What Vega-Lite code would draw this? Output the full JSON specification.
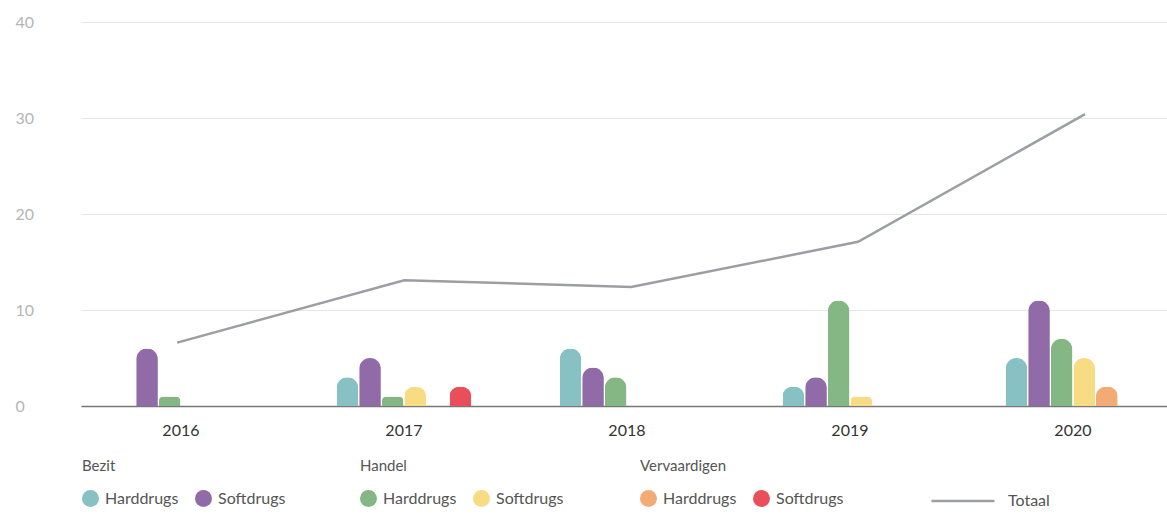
{
  "$schema": "https://vega.github.io/schema/vega-lite/v6.json",
  "width": 1086,
  "height": 384,
  "autosize": "none",
  "padding": {"left": 81, "top": 22, "right": 0, "bottom": 110},
  "config": {
    "view": {"stroke": null},
    "font": "Lato",
    "legend": {
      "orient": "none",
      "direction": "horizontal",
      "titleFont": "Lato",
      "titleFontSize": 15,
      "titleFontWeight": "normal",
      "titleColor": "#555555",
      "titlePadding": 16,
      "labelFont": "Lato",
      "labelFontSize": 16,
      "labelColor": "#555555",
      "symbolSize": 289,
      "symbolType": "circle",
      "symbolStrokeWidth": 0,
      "labelOffset": 6,
      "columnPadding": 16
    }
  },
  "datasets": {
    "bars": [
      {"jaar": "2016", "categorie": "Bezit", "drug": "Softdrugs", "reeks": "Bezit Softdrugs", "aantal": 6},
      {"jaar": "2016", "categorie": "Handel", "drug": "Harddrugs", "reeks": "Handel Harddrugs", "aantal": 1},
      {"jaar": "2017", "categorie": "Bezit", "drug": "Harddrugs", "reeks": "Bezit Harddrugs", "aantal": 3},
      {"jaar": "2017", "categorie": "Bezit", "drug": "Softdrugs", "reeks": "Bezit Softdrugs", "aantal": 5},
      {"jaar": "2017", "categorie": "Handel", "drug": "Harddrugs", "reeks": "Handel Harddrugs", "aantal": 1},
      {"jaar": "2017", "categorie": "Handel", "drug": "Softdrugs", "reeks": "Handel Softdrugs", "aantal": 2},
      {"jaar": "2017", "categorie": "Vervaardigen", "drug": "Softdrugs", "reeks": "Vervaardigen Softdrugs", "aantal": 2},
      {"jaar": "2018", "categorie": "Bezit", "drug": "Harddrugs", "reeks": "Bezit Harddrugs", "aantal": 6},
      {"jaar": "2018", "categorie": "Bezit", "drug": "Softdrugs", "reeks": "Bezit Softdrugs", "aantal": 4},
      {"jaar": "2018", "categorie": "Handel", "drug": "Harddrugs", "reeks": "Handel Harddrugs", "aantal": 3},
      {"jaar": "2019", "categorie": "Bezit", "drug": "Harddrugs", "reeks": "Bezit Harddrugs", "aantal": 2},
      {"jaar": "2019", "categorie": "Bezit", "drug": "Softdrugs", "reeks": "Bezit Softdrugs", "aantal": 3},
      {"jaar": "2019", "categorie": "Handel", "drug": "Harddrugs", "reeks": "Handel Harddrugs", "aantal": 11},
      {"jaar": "2019", "categorie": "Handel", "drug": "Softdrugs", "reeks": "Handel Softdrugs", "aantal": 1},
      {"jaar": "2020", "categorie": "Bezit", "drug": "Harddrugs", "reeks": "Bezit Harddrugs", "aantal": 5},
      {"jaar": "2020", "categorie": "Bezit", "drug": "Softdrugs", "reeks": "Bezit Softdrugs", "aantal": 11},
      {"jaar": "2020", "categorie": "Handel", "drug": "Harddrugs", "reeks": "Handel Harddrugs", "aantal": 7},
      {"jaar": "2020", "categorie": "Handel", "drug": "Softdrugs", "reeks": "Handel Softdrugs", "aantal": 5},
      {"jaar": "2020", "categorie": "Vervaardigen", "drug": "Harddrugs", "reeks": "Vervaardigen Harddrugs", "aantal": 2}
    ],
    "totaal": [
      {"jaar": "2016", "reeks": "Totaal", "aantal": 6.6},
      {"jaar": "2017", "reeks": "Totaal", "aantal": 13.1},
      {"jaar": "2018", "reeks": "Totaal", "aantal": 12.4},
      {"jaar": "2019", "reeks": "Totaal", "aantal": 17.1},
      {"jaar": "2020", "reeks": "Totaal", "aantal": 30.4}
    ]
  },
  "layer": [
    {
      "data": {"name": "bars"},
      "encoding": {
        "x": {
          "field": "jaar", "type": "nominal",
          "scale": {"domain": ["2016", "2017", "2018", "2019", "2020"], "paddingInner": 0.392, "paddingOuter": 0.131, "align": 0.55},
          "axis": {"title": null, "labelAngle": 0, "domain": true, "domainColor": "#777777", "domainWidth": 1.5, "ticks": false, "labelFontSize": 16, "labelColor": "#333333", "labelPadding": 16, "labelFont": "Lato"}
        },
        "xOffset": {
          "field": "reeks", "type": "nominal",
          "scale": {"domain": ["Bezit Harddrugs", "Bezit Softdrugs", "Handel Harddrugs", "Handel Softdrugs", "Vervaardigen Harddrugs", "Vervaardigen Softdrugs"], "paddingInner": 0.04, "paddingOuter": 0.02}
        },
        "y": {
          "field": "aantal", "type": "quantitative",
          "scale": {"domain": [0, 40]},
          "axis": {"title": null, "values": [0, 10, 20, 30, 40], "domain": false, "ticks": false, "grid": true, "gridColor": "#e6e6e6", "gridWidth": 1, "labelAlign": "left", "labelPadding": 66, "labelFontSize": 16, "labelColor": "#b5b5b5", "labelFont": "Lato"}
        }
      },
      "layer": [
        {
          "transform": [{"filter": "datum.categorie === 'Bezit'"}],
          "mark": {"type": "bar", "cornerRadiusTopLeft": 11, "cornerRadiusTopRight": 11},
          "encoding": {
            "color": {"field": "drug", "type": "nominal", "scale": {"domain": ["Harddrugs", "Softdrugs"], "range": ["#88c1c4", "#916ba8"]},
              "legend": {"title": "Bezit", "legendX": 1, "legendY": 437}},
            "strokeDash": {"datum": "Bezit", "type": "nominal", "scale": {"range": [[1, 0]]},
              "legend": {"title": null, "labelExpr": "''", "symbolType": "stroke", "symbolSize": 51984, "symbolStrokeColor": "#c2c2c6", "symbolStrokeWidth": 1.5, "legendX": 0, "legendY": 345}}
          }
        },
        {
          "transform": [{"filter": "datum.categorie === 'Handel'"}],
          "mark": {"type": "bar", "cornerRadiusTopLeft": 11, "cornerRadiusTopRight": 11},
          "encoding": {
            "color": {"field": "drug", "type": "nominal", "scale": {"domain": ["Harddrugs", "Softdrugs"], "range": ["#84b784", "#f7dc84"]},
              "legend": {"title": "Handel", "legendX": 279, "legendY": 437}},
            "strokeDash": {"datum": "Handel", "type": "nominal", "scale": {"range": [[1, 0]]},
              "legend": {"title": null, "labelExpr": "''", "symbolType": "stroke", "symbolSize": 51984, "symbolStrokeColor": "#c2c2c6", "symbolStrokeWidth": 1.5, "legendX": 278, "legendY": 345}}
          }
        },
        {
          "transform": [{"filter": "datum.categorie === 'Vervaardigen'"}],
          "mark": {"type": "bar", "cornerRadiusTopLeft": 11, "cornerRadiusTopRight": 11},
          "encoding": {
            "color": {"field": "drug", "type": "nominal", "scale": {"domain": ["Harddrugs", "Softdrugs"], "range": ["#f2ab74", "#e94f5a"]},
              "legend": {"title": "Vervaardigen", "legendX": 559, "legendY": 437}},
            "strokeDash": {"datum": "Vervaardigen", "type": "nominal", "scale": {"range": [[1, 0]]},
              "legend": {"title": null, "labelExpr": "''", "symbolType": "stroke", "symbolSize": 52441, "symbolStrokeColor": "#c2c2c6", "symbolStrokeWidth": 1.5, "legendX": 558, "legendY": 344}}
          }
        }
      ],
      "resolve": {"scale": {"color": "independent", "strokeDash": "independent"}}
    },
    {
      "data": {"name": "totaal"},
      "mark": {"type": "line", "strokeWidth": 2.5},
      "encoding": {
        "x": {"field": "jaar", "type": "ordinal", "scale": {"type": "point", "padding": 0.3925, "align": 0.54}, "axis": null},
        "y": {"field": "aantal", "type": "quantitative"},
        "stroke": {"field": "reeks", "type": "nominal", "scale": {"range": ["#9b9fa3"]}, "legend": {"title": null, "symbolType": "stroke", "symbolSize": 3969, "symbolStrokeWidth": 2.5, "labelOffset": 12, "legendX": 849, "legendY": 446}}
      }
    }
  ],
  "resolve": {"scale": {"x": "independent", "color": "independent", "strokeDash": "independent"}}
}
